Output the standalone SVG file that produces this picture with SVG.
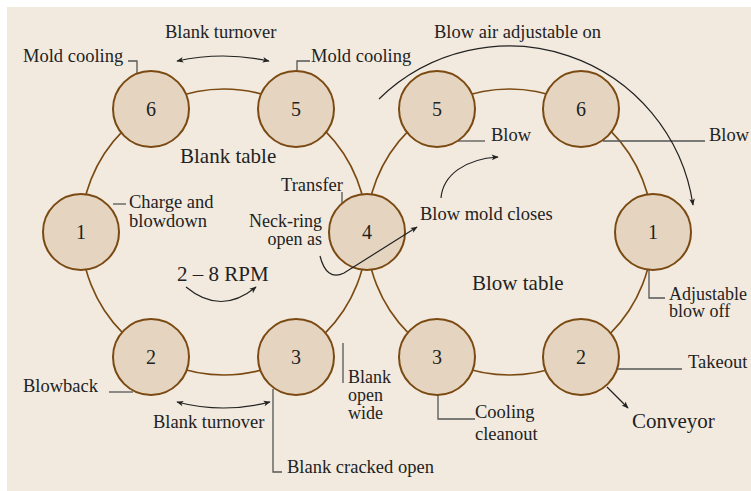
<svg xmlns="http://www.w3.org/2000/svg" width="751" height="491" viewBox="0 0 751 491">
  <style>
    text { font-family: "Liberation Serif", "Times New Roman", serif; fill: #222; }
    .lbl { font-size: 18.5px; }
    .stk { font-size: 18px; }
    .big { font-size: 21px; }
    .num { font-size: 20px; text-anchor: middle; }
    .table { fill: none; stroke: #7a4a12; stroke-width: 1.6; }
    .station { fill: #e5d5c0; stroke: #7a4a12; stroke-width: 2; }
    .leader { fill: none; stroke: #555; stroke-width: 1.3; }
    .arrow { fill: none; stroke: #222; stroke-width: 1.2; }
  </style>
  <defs>
    <marker id="ah" viewBox="0 0 10 10" refX="9" refY="5" markerWidth="9" markerHeight="7" markerUnits="userSpaceOnUse" orient="auto-start-reverse">
      <path d="M0,1 L10,5 L0,9 L2.5,5 Z" fill="#222"/>
    </marker>
  </defs>

  <!-- panel -->
  <rect x="7" y="7" width="744" height="484" fill="#f2eadf"/>

  <!-- rotary tables -->
  <g id="tables">
    <circle class="table" cx="224" cy="232" r="143"/>
    <circle class="table" cx="509.5" cy="232" r="143"/>
  </g>

  <!-- leaders and motion arrows -->
  <g id="connectors">
    <path class="leader" d="M128,61 H137 V73"/>
    <path class="leader" d="M310,61 H297 V71"/>
    <path class="leader" d="M113,204 H126"/>
    <path class="leader" d="M342,192 V204"/>
    <path class="leader" d="M109,392 H133"/>
    <path class="leader" d="M273,389 V472 H282"/>
    <path class="leader" d="M343,343 V383"/>
    <path class="leader" d="M458,141 H485"/>
    <path class="leader" d="M603,141 H705"/>
    <path class="leader" d="M649,270 V298 H665"/>
    <path class="leader" d="M618,369 H682"/>
    <path class="leader" d="M438,395 V419 H475"/>

    <path class="arrow" d="M177,61 Q223,51 269,61" marker-start="url(#ah)" marker-end="url(#ah)"/>
    <path class="arrow" d="M177,402 Q223,414 270,402" marker-start="url(#ah)" marker-end="url(#ah)"/>
    <path class="arrow" d="M186,287 Q221,316 256,287" marker-end="url(#ah)"/>
    <path class="arrow" d="M441,198 C443,175 465,159 498,157" marker-end="url(#ah)"/>
    <path class="arrow" d="M379,99 A186,186 0 0 1 693,205" marker-end="url(#ah)"/>
    <path class="arrow" d="M607,387 L628,408" marker-end="url(#ah)"/>
  </g>

  <!-- blank-side stations -->
  <g id="blank-1"><circle class="station" cx="81" cy="232" r="38"/><text class="num" x="81" y="239">1</text></g>
  <g id="blank-2"><circle class="station" cx="151" cy="357" r="38"/><text class="num" x="151" y="364">2</text></g>
  <g id="blank-3"><circle class="station" cx="296" cy="357" r="38"/><text class="num" x="296" y="364">3</text></g>
  <g id="station-4"><circle class="station" cx="367" cy="232" r="38"/><text class="num" x="367" y="239">4</text></g>
  <g id="blank-5"><circle class="station" cx="296" cy="109" r="38"/><text class="num" x="296" y="116">5</text></g>
  <g id="blank-6"><circle class="station" cx="151" cy="109" r="38"/><text class="num" x="151" y="116">6</text></g>

  <!-- blow-side stations -->
  <g id="blow-5"><circle class="station" cx="437" cy="109" r="38"/><text class="num" x="437" y="116">5</text></g>
  <g id="blow-6"><circle class="station" cx="581" cy="109" r="38"/><text class="num" x="581" y="116">6</text></g>
  <g id="blow-1"><circle class="station" cx="653" cy="232" r="38"/><text class="num" x="653" y="239">1</text></g>
  <g id="blow-2"><circle class="station" cx="581" cy="357" r="38"/><text class="num" x="581" y="364">2</text></g>
  <g id="blow-3"><circle class="station" cx="437" cy="357" r="38"/><text class="num" x="437" y="364">3</text></g>

  <!-- transfer path runs across station 4 -->
  <g id="transfer-arrow">
    <path class="arrow" d="M320,256 C324,272 332,279 344,273 L417,227" marker-end="url(#ah)"/>
  </g>

  <!-- labels -->
  <g id="labels">
    <text class="lbl" x="165" y="38">Blank turnover</text>
    <text class="lbl" x="23" y="62">Mold cooling</text>
    <text class="lbl" x="311" y="62">Mold cooling</text>
    <text class="big" x="180" y="163">Blank table</text>
    <text class="lbl" x="343" y="191" text-anchor="end">Transfer</text>
    <text class="lbl" x="129" y="208">Charge and</text>
    <text class="lbl" x="129" y="227">blowdown</text>
    <text class="stk" x="322" y="227" text-anchor="end">Neck-ring</text>
    <text class="stk" x="322" y="245" text-anchor="end">open as</text>
    <text class="big" x="177" y="281">2 – 8 RPM</text>
    <text class="lbl" x="23" y="392">Blowback</text>
    <text class="lbl" x="153" y="428">Blank turnover</text>
    <text class="lbl" x="287" y="473">Blank cracked open</text>
    <text class="stk" x="348" y="383">Blank</text>
    <text class="stk" x="348" y="401">open</text>
    <text class="stk" x="348" y="419">wide</text>

    <text class="lbl" x="434" y="38">Blow air adjustable on</text>
    <text class="lbl" x="491" y="141">Blow</text>
    <text class="lbl" x="709" y="141">Blow</text>
    <text class="lbl" x="420" y="220">Blow mold closes</text>
    <text class="big" x="472" y="290">Blow table</text>
    <text class="stk" x="669" y="300">Adjustable</text>
    <text class="stk" x="669" y="317">blow off</text>
    <text class="lbl" x="688" y="368">Takeout</text>
    <text class="lbl" x="475" y="418">Cooling</text>
    <text class="lbl" x="475" y="440">cleanout</text>
    <text class="big" x="632" y="428">Conveyor</text>
  </g>
</svg>
